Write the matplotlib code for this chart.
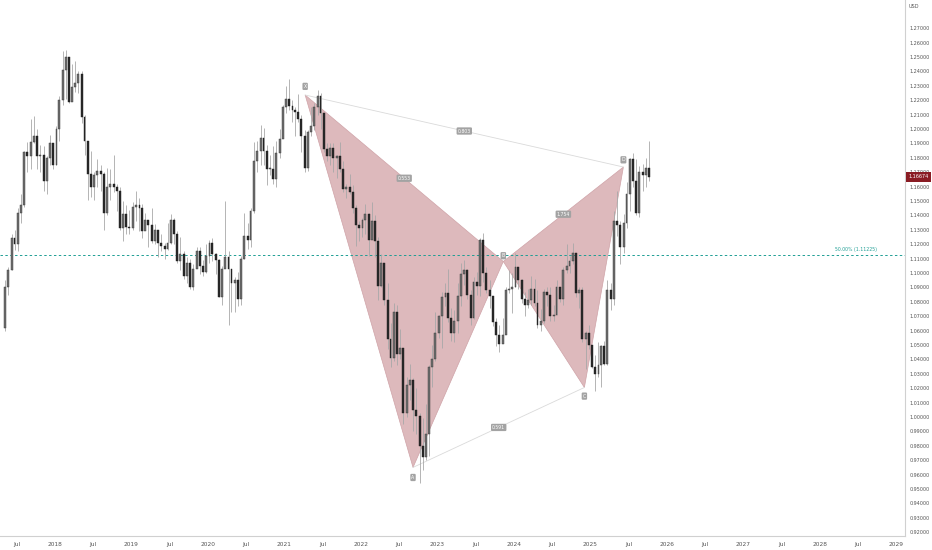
import numpy as np
import pandas as pd
import matplotlib
matplotlib.use("Agg")
import matplotlib.pyplot as plt

# half-month candles, EUR/USD, Apr 2017 (2nd half) .. Sep 2025 (2nd half)
first_open = 1.062
closes = [
    # 2017
    1.090, 1.102, 1.124, 1.120, 1.142, 1.147, 1.184, 1.181, 1.191, 1.195, 1.181,
    1.182, 1.164, 1.180, 1.190, 1.175, 1.200,
    # 2018
    1.220, 1.241, 1.250, 1.219, 1.229, 1.232, 1.238, 1.208, 1.192, 1.169, 1.160, 1.168,
    1.171, 1.169, 1.142, 1.160, 1.162, 1.160, 1.157, 1.131, 1.141, 1.132, 1.131, 1.146,
    # 2019
    1.147, 1.145, 1.129, 1.137, 1.133, 1.122, 1.130, 1.121, 1.119, 1.117, 1.121, 1.137,
    1.127, 1.108, 1.113, 1.098, 1.107, 1.090, 1.103, 1.115, 1.105, 1.101, 1.112, 1.121,
    # 2020
    1.113, 1.109, 1.083, 1.103, 1.111, 1.103, 1.093, 1.095, 1.082, 1.110, 1.126, 1.123,
    1.143, 1.178, 1.185, 1.194, 1.185, 1.172, 1.172, 1.165, 1.183, 1.193, 1.215, 1.221,
    # 2021
    1.216, 1.213, 1.212, 1.207, 1.195, 1.173, 1.198, 1.202, 1.215, 1.223, 1.211, 1.186,
    1.181, 1.187, 1.180, 1.181, 1.172, 1.158, 1.160, 1.156, 1.145, 1.133, 1.131, 1.137,
    # 2022
    1.141, 1.123, 1.136, 1.122, 1.091, 1.107, 1.081, 1.054, 1.041, 1.073, 1.044, 1.048,
    1.003, 1.022, 1.026, 1.005, 1.001, 0.980, 0.972, 0.988, 1.035, 1.040, 1.058, 1.070,
    # 2023
    1.083, 1.086, 1.069, 1.058, 1.067, 1.084, 1.099, 1.102, 1.085, 1.069, 1.094, 1.091,
    1.123, 1.100, 1.088, 1.084, 1.066, 1.057, 1.051, 1.057, 1.088, 1.089, 1.090, 1.104,
    # 2024
    1.095, 1.082, 1.078, 1.081, 1.089, 1.079, 1.064, 1.067, 1.087, 1.085, 1.070, 1.071,
    1.090, 1.082, 1.102, 1.105, 1.108, 1.114, 1.086, 1.088, 1.054, 1.058, 1.050, 1.035,
    # 2025
    1.030, 1.036, 1.049, 1.037, 1.088, 1.082, 1.136, 1.133, 1.118, 1.135, 1.155, 1.179,
    1.164, 1.142, 1.170, 1.168, 1.173, 1.16674,
]
highs = [
    1.095, 1.104, 1.127, 1.130, 1.145, 1.155, 1.185, 1.191, 1.207, 1.209, 1.200,
    1.189, 1.188, 1.181, 1.196, 1.190, 1.202,
    1.223, 1.254, 1.255, 1.246, 1.245, 1.247, 1.240, 1.240, 1.210, 1.180, 1.185, 1.170,
    1.179, 1.175, 1.170, 1.173, 1.172, 1.182, 1.162, 1.160, 1.150, 1.147, 1.144, 1.149,
    1.157, 1.152, 1.148, 1.142, 1.134, 1.145, 1.134, 1.130, 1.127, 1.121, 1.135, 1.141,
    1.138, 1.129, 1.125, 1.115, 1.111, 1.110, 1.106, 1.118, 1.118, 1.109, 1.120, 1.123,
    1.124, 1.114, 1.110, 1.105, 1.150, 1.115, 1.100, 1.097, 1.101, 1.112, 1.142, 1.135,
    1.145, 1.191, 1.192, 1.203, 1.201, 1.189, 1.182, 1.188, 1.192, 1.200, 1.217, 1.230,
    1.235, 1.220, 1.215, 1.224, 1.210, 1.199, 1.199, 1.215, 1.218, 1.227, 1.225, 1.200,
    1.190, 1.190, 1.190, 1.182, 1.191, 1.178, 1.162, 1.169, 1.161, 1.147, 1.136, 1.138,
    1.148, 1.142, 1.149, 1.140, 1.125, 1.113, 1.106, 1.093, 1.065, 1.079, 1.078, 1.061,
    1.047, 1.028, 1.037, 1.027, 1.020, 1.003, 0.999, 1.009, 1.036, 1.050, 1.073, 1.071,
    1.087, 1.093, 1.103, 1.076, 1.074, 1.093, 1.107, 1.109, 1.103, 1.088, 1.097, 1.101,
    1.124, 1.128, 1.104, 1.095, 1.083, 1.069, 1.064, 1.069, 1.090, 1.102, 1.100, 1.114,
    1.104, 1.096, 1.087, 1.089, 1.098, 1.096, 1.088, 1.075, 1.089, 1.090, 1.090, 1.078,
    1.095, 1.090, 1.104, 1.120, 1.112, 1.121, 1.114, 1.090, 1.090, 1.060, 1.064, 1.050,
    1.043, 1.052, 1.050, 1.053, 1.095, 1.093, 1.143, 1.157, 1.136, 1.141, 1.163, 1.180,
    1.183, 1.179, 1.174, 1.176, 1.180, 1.192,
]
lows = [
    1.060, 1.085, 1.102, 1.116, 1.115, 1.135, 1.146, 1.170, 1.172, 1.190, 1.172,
    1.170, 1.157, 1.155, 1.175, 1.172, 1.175,
    1.192, 1.217, 1.221, 1.218, 1.222, 1.226, 1.225, 1.204, 1.182, 1.151, 1.153, 1.151,
    1.160, 1.157, 1.130, 1.140, 1.151, 1.156, 1.143, 1.130, 1.122, 1.127, 1.127, 1.130,
    1.136, 1.129, 1.124, 1.131, 1.118, 1.121, 1.120, 1.111, 1.115, 1.110, 1.116, 1.120,
    1.120, 1.107, 1.102, 1.096, 1.093, 1.089, 1.088, 1.105, 1.099, 1.098, 1.100, 1.107,
    1.108, 1.099, 1.083, 1.078, 1.105, 1.064, 1.073, 1.073, 1.077, 1.078, 1.110, 1.117,
    1.118, 1.142, 1.170, 1.175, 1.175, 1.161, 1.168, 1.162, 1.160, 1.180, 1.196, 1.211,
    1.213, 1.205, 1.195, 1.205, 1.184, 1.170, 1.171, 1.195, 1.199, 1.210, 1.200, 1.184,
    1.178, 1.175, 1.170, 1.166, 1.170, 1.156, 1.152, 1.155, 1.142, 1.119, 1.122, 1.125,
    1.127, 1.112, 1.124, 1.111, 1.081, 1.090, 1.078, 1.047, 1.035, 1.039, 1.036, 1.040,
    0.995, 1.000, 1.012, 0.990, 0.988, 0.954, 0.963, 0.970, 0.973, 1.021, 1.039, 1.055,
    1.048, 1.077, 1.066, 1.053, 1.052, 1.058, 1.077, 1.092, 1.082, 1.064, 1.068, 1.085,
    1.084, 1.094, 1.086, 1.076, 1.063, 1.049, 1.045, 1.052, 1.062, 1.086, 1.072, 1.090,
    1.089, 1.079, 1.070, 1.076, 1.078, 1.077, 1.062, 1.060, 1.065, 1.077, 1.067, 1.067,
    1.071, 1.080, 1.078, 1.100, 1.100, 1.106, 1.083, 1.076, 1.052, 1.033, 1.047, 1.034,
    1.018, 1.028, 1.021, 1.036, 1.036, 1.074, 1.078, 1.126, 1.106, 1.114, 1.131, 1.143,
    1.160, 1.140, 1.139, 1.157, 1.160, 1.164,
]

# harmonic pattern pivots (dates as fractional year, price)
pattern_names = ["X", "A", "B", "C", "D"]
pattern_t = [2021.27, 2022.68, 2023.86, 2024.92, 2025.43]
pattern_p = [1.2236, 0.9650, 1.1080, 1.0205, 1.1736]
ratio_labels = {"XB": "0.553", "AC": "0.591", "BD": "1.754", "XD": "0.803"}

fib_level = 1.11225
fib_text = "50.00% (1.11225)"
last_price = 1.16674

year_ticks = list(range(2018, 2030))

# ---- build candles
dates = pd.date_range("2017-04-16", periods=len(closes), freq="SMS")
t = dates.year + (dates.dayofyear + 6) / 365.25
t = np.asarray(t, dtype=float)
closes = np.array(closes)
opens = np.concatenate([[first_open], closes[:-1]])
highs = np.array(highs)
lows = np.array(lows)

fig = plt.figure(figsize=(9.32, 5.5), dpi=100)
ax = fig.add_axes([0, 14 / 550, 905 / 932, 536 / 550])
ax.set_xlim(2017.281, 2029.111)
ax.set_ylim(0.91736, 1.28958)

# pattern fills
X, A, B, C, D = zip(pattern_t, pattern_p)
fill_col = "#ddb9bc"
edge_col = "#cfa3a8"
ax.fill([X[0], A[0], B[0]], [X[1], A[1], B[1]], color=fill_col, ec=edge_col, lw=0.5, zorder=1)
ax.fill([B[0], C[0], D[0]], [B[1], C[1], D[1]], color=fill_col, ec=edge_col, lw=0.5, zorder=1)
ax.plot([X[0], D[0]], [X[1], D[1]], color="#dadada", lw=0.6, zorder=1)
ax.plot([A[0], C[0]], [A[1], C[1]], color="#dadada", lw=0.6, zorder=1)

# fib line
ax.axhline(fib_level, color="#1e9e94", lw=0.7, ls=(0, (2.5, 2.5)), zorder=2)
ax.text(2028.75, fib_level + 0.002, fib_text, color="#1e9e94", fontsize=3.3,
        ha="right", va="bottom")

# candles
w = 0.6 / 24
up = closes >= opens
ax.vlines(t, lows, highs, color="#a8a8a8", lw=0.6, zorder=3)
body_lo = np.minimum(opens, closes)
body_h = np.maximum(np.abs(closes - opens), 0.0008)
ax.bar(t[up], body_h[up], bottom=body_lo[up], width=w, color="#707070",
       edgecolor="#333333", lw=0.3, zorder=4)
ax.bar(t[~up], body_h[~up], bottom=body_lo[~up], width=w, color="#2a2a2a",
       edgecolor="#1a1a1a", lw=0.3, zorder=4)

# pattern labels
box = dict(boxstyle="round,pad=0.25", fc="#a3a3a3", ec="none")
offs = {"X": 0.006, "A": -0.007, "B": 0.004, "C": -0.006, "D": 0.005}
for n, tt, pp in zip(pattern_names, pattern_t, pattern_p):
    ax.text(tt, pp + offs[n], n, fontsize=3.3, color="white", ha="center",
            va="center", bbox=box, zorder=6)
pts = dict(zip(pattern_names, zip(pattern_t, pattern_p)))
for key, lab in ratio_labels.items():
    p1, p2 = pts[key[0]], pts[key[1]]
    mx, my = (p1[0] + p2[0]) / 2, (p1[1] + p2[1]) / 2
    ax.text(mx, my, lab, fontsize=3.3, color="white", ha="center", va="center",
            bbox=box, zorder=6)

# axes styling
for s in ["top", "left"]:
    ax.spines[s].set_visible(False)
ax.spines["right"].set_color("#d0d0d0")
ax.spines["bottom"].set_color("#d0d0d0")
ax.spines["right"].set_linewidth(0.8)
ax.spines["bottom"].set_linewidth(0.8)

ax.yaxis.tick_right()
yt = np.round(np.arange(0.92, 1.2701, 0.01), 2)
ax.set_yticks(yt)
ax.set_yticklabels([f"{v:.5f}" for v in yt])
ax.tick_params(axis="y", length=0, pad=3.5, labelsize=3.5, labelcolor="#555555")

xt, xl = [], []
for y in year_ticks:
    xt += [y - 0.5, y]
    xl += ["Jul", str(y)]
ax.set_xticks(xt)
ax.set_xticklabels(xl)
ax.tick_params(axis="x", length=0, pad=4, labelsize=4.2, labelcolor="#555555")

# last price tag
ax.annotate(f"{last_price:.5f}", xy=(1.0, last_price),
            xycoords=("axes fraction", "data"), xytext=(2.5, 0),
            textcoords="offset points", fontsize=3.5, color="white",
            va="center", ha="left", annotation_clip=False,
            bbox=dict(boxstyle="square,pad=0.45", fc="#8a1c24", ec="none"),
            zorder=10)

fig.text(914 / 932, 1 - 7 / 550, "USD", fontsize=3.6, color="#555555",
         ha="center", va="center")

fig.savefig("out.png", dpi=100, facecolor="white")
